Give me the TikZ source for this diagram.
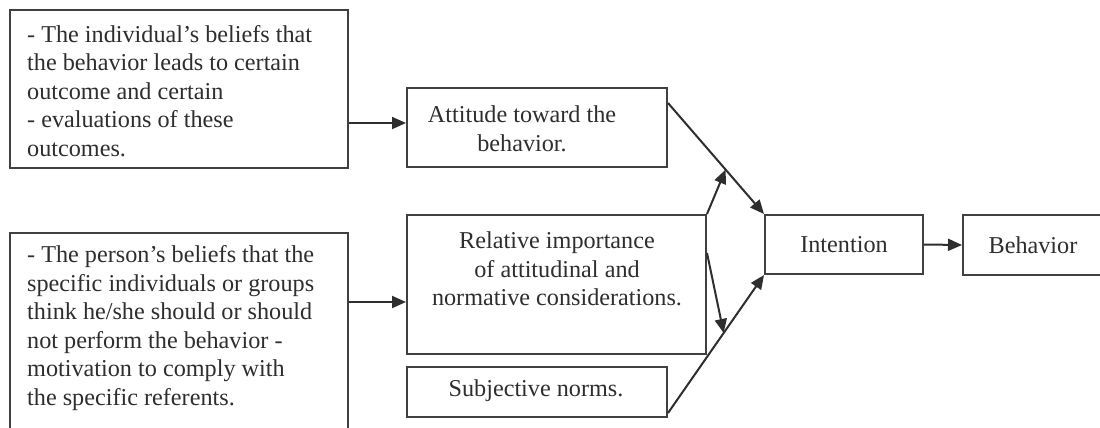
\documentclass[tikz,border=0pt]{standalone}
\usepackage{fontspec}
\setmainfont{Liberation Serif}
\usetikzlibrary{arrows.meta,calc}
\tikzset{
  box/.style={draw=black!75, line width=2pt, inner sep=0pt, fill=none},
  txt/.style={inner sep=0pt, text=black!82, font=\fontsize{24.2}{28.6}\selectfont},
  conn/.style={draw=black!82, line width=2pt, -{Triangle[length=14pt,width=12pt]}},
}
\begin{document}
\begin{tikzpicture}[x=1pt,y=-1pt]
\useasboundingbox (0,0) rectangle (1100,428);
\clip (0,0) rectangle (1100,428);
\fill[white] (0,0) rectangle (1100,428);
% boxes
\node[box, minimum width=338pt, minimum height=158pt] (b1) at (179,89) {};
\node[box, minimum width=338pt, minimum height=217pt] (b3) at (179,341.5) {};
\node[box, minimum width=260pt, minimum height=79pt] (att) at (537,127.5) {};
\node[box, minimum width=299pt, minimum height=139pt] (rel) at (556.5,284.5) {};
\node[box, minimum width=260pt, minimum height=50pt] (subj) at (537,392) {};
\node[box, minimum width=158pt, minimum height=59pt] (int) at (844,244.5) {};
\node[box, minimum width=140pt, minimum height=60pt] (beh) at (1033,245) {};
% texts
\node[txt, align=left, anchor=west] (t1) at (27,91) {- The individual's beliefs that\\the behavior leads to certain\\outcome and certain\\- evaluations of these\\outcomes.};
\node[txt, align=left, anchor=west] (t3) at (27,328) {- The person's beliefs that the\\specific individuals or groups\\think he/she should or should\\not perform the behavior -\\motivation to comply with\\the specific referents.};
\node[txt, align=center] (tatt) at (522,128.5) {Attitude toward the\\behavior.};
\node[txt, align=center] (trel) at (557,269) {Relative importance\\of attitudinal and\\normative considerations.};
\node[txt] (tsubj) at (536,391) {Subjective norms.};
\node[txt] (tint) at (844,245) {Intention};
\node[txt] (tbeh) at (1033,245) {Behavior};
% connectors
\coordinate (y1) at (0,123);
\coordinate (y3) at (0,302);
\coordinate (ya) at (0,103);
\coordinate (yr) at (0,253);
\coordinate (ys) at (0,413);
\draw[conn] (b1.east |- y1) -- (att.west |- y1);
\draw[conn] (b3.east |- y3) -- (rel.west |- y3);
\coordinate (aStart) at (att.east |- ya);
\coordinate (sStart) at (subj.east |- ys);
\draw[conn] (aStart) -- (int.north west);
\draw[conn] (sStart) -- (int.south west);
\coordinate (hitA) at ($(aStart)!0.6!(int.north west)$);
\coordinate (hitS) at ($(sStart)!0.58!(int.south west)$);
\draw[conn] (rel.north east) -- (hitA);
\draw[conn] (rel.east |- yr) -- (hitS);
\draw[conn] (int.east) -- (beh.west);
\end{tikzpicture}
\end{document}
